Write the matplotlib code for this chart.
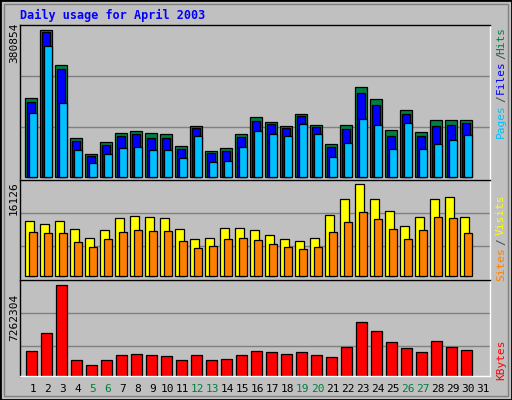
import matplotlib
matplotlib.use("Agg")
import matplotlib.pyplot as plt
import numpy as np

days = list(range(1, 32))
hits = [202500, 380854, 287800, 99100, 57700, 88800, 112000, 117200, 112000, 109400, 78400, 130100, 65500, 73200, 109400,
        153400, 140500, 130100, 161100, 132700, 83600, 132700, 230900, 199900, 119800, 171500, 114600, 145600, 145600, 145600]
files = [192200, 373100, 277500, 91300, 52600, 81000, 104300, 109400, 99100, 99100, 70700, 124900, 60300, 65500, 101700,
         143000, 135300, 124900, 156000, 127500, 75800, 122400, 215400, 184400, 104300, 161100, 104300, 130100, 132700, 137900]
pages = [163700, 336900, 189600, 68100, 34500, 57700, 73200, 75800, 68100, 68100, 47400, 104300, 37100, 39600, 75800,
         117200, 109400, 104300, 135300, 109400, 50000, 86200, 148200, 132700, 70700, 137900, 70700, 83600, 93900, 106900]
visits = [9640, 9115, 9640, 8240, 6660, 8060, 10170, 10520, 10340, 10170, 8240, 6490, 6660, 8410, 8410,
          8060, 7190, 6490, 6135, 6660, 10690, 13500, 16126, 13500, 11390, 8760, 10340, 13500, 13850, 10340]
sites = [7710, 7540, 7540, 5960, 5080, 6490, 7710, 8060, 7890, 7890, 6135, 4910, 5260, 6490, 6660,
         6310, 5610, 5080, 4730, 5080, 7710, 9470, 11220, 9990, 8240, 6490, 8060, 10340, 10170, 7540]
kbytes = [2014400, 3445700, 7262304, 1298700, 901200, 1298700, 1696300, 1775800, 1696300, 1616800, 1298700, 1696300, 1298700, 1378300, 1696300,
          2014400, 1934900, 1775800, 1934900, 1696300, 1537300, 2332400, 4320300, 3604700, 2730000, 2252900, 1934900, 2809500, 2332400, 2093900]
weekends = [5, 6, 12, 13, 19, 20, 26, 27]

BG = "#C0C0C0"
GREEN, BLUE, CYAN = "#008040", "#0000FF", "#00C0FF"
YEL, ORA, RED = "#FFFF00", "#FF8000", "#FF0000"
MONO = "DejaVu Sans Mono"

fig = plt.figure(figsize=(5.12, 4.0), dpi=100, facecolor=BG)
W, H = 512, 400

def mkax(top, bottom):
    ax = fig.add_axes([20 / W, (H - bottom) / H, 470 / W, (bottom - top) / H])
    ax.set_facecolor(BG)
    ax.set_xlim(0.667, 32.0)
    ax.set_xticks([])
    ax.set_yticks([])
    for s in ("left", "top"):
        ax.spines[s].set_color("black")
    for s in ("right", "bottom"):
        ax.spines[s].set_color("white")
    for s in ax.spines.values():
        s.set_linewidth(1)
    return ax

d = np.array(days[:30], dtype=float)
kw = dict(align="edge", edgecolor="black", linewidth=0.9)

ax1 = mkax(25, 180)
top1 = 392500
ax1.set_ylim(-8540, top1)
for f in (0.339, 0.668):
    ax1.axhline(-8540 + f * (top1 + 8540), color="#808080", lw=1, zorder=0)
ax1.bar(d + 0.02, hits, width=0.76, color=GREEN, **kw)
ax1.bar(d + 0.15, files, width=0.49, color=BLUE, **kw)
ax1.bar(d + 0.29, pages, width=0.49, color=CYAN, **kw)

ax2 = mkax(180, 280)
ax2.set_ylim(-650, 16830)
for f in (0.338, 0.669):
    ax2.axhline(-650 + f * (16830 + 650), color="#808080", lw=1, zorder=0)
ax2.bar(d + 0.02, visits, width=0.56, color=YEL, **kw)
ax2.bar(d + 0.29, sites, width=0.49, color=ORA, **kw)

ax3 = mkax(280, 376)
ax3.set_ylim(0, 7627000)
for f in (0.309, 0.653):
    ax3.axhline(f * 7627000, color="#808080", lw=1, zorder=0)
ax3.bar(d + 0.09, kbytes, width=0.69, color=RED, **kw)
ax3.set_xticks([x + 0.53 for x in days])
ax3.set_xticklabels([str(x) for x in days], fontfamily=MONO, fontsize=8)
ax3.tick_params(axis="x", length=0, pad=6)
for lbl, day in zip(ax3.get_xticklabels(), days):
    lbl.set_color(GREEN if day in weekends else "black")

fig.text(20 / W, 1 - 15 / H, "Daily usage for April 2003", color="#0000FF",
         fontfamily=MONO, fontweight="bold", fontsize=8.5, va="center", ha="left")

def vtext(x, y, s, c):
    fig.text(x / W, 1 - y / H, s, color=c, rotation=90, fontfamily=MONO,
             fontsize=8, ha="center", va="center")

vtext(14, 43, max(hits).__str__(), "black")
vtext(14, 198, str(max(visits)), "black")
vtext(14, 317, str(max(kbytes)), "black")
vtext(501, 40, "Hits", GREEN)
vtext(501, 56, "/", "#404040")
vtext(501, 77, "Files", BLUE)
vtext(501, 99, "/", "#404040")
vtext(501, 121, "Pages", CYAN)
vtext(501, 215, "Visits", YEL)
vtext(501, 242, "/", "#404040")
vtext(501, 264, "Sites", ORA)
vtext(501, 360, "KBytes", RED)

# outer frame with bevel
from matplotlib.patches import Rectangle
fig.patches.append(Rectangle((0, 0), 1, 1, transform=fig.transFigure, fill=False, edgecolor="black", lw=2))
fig.patches.append(Rectangle((4 / W, 4 / H), (W - 8) / W, (H - 8) / H, transform=fig.transFigure,
                             fill=False, edgecolor="#808080", lw=1))

fig.savefig("out.png", dpi=100, facecolor=BG)
